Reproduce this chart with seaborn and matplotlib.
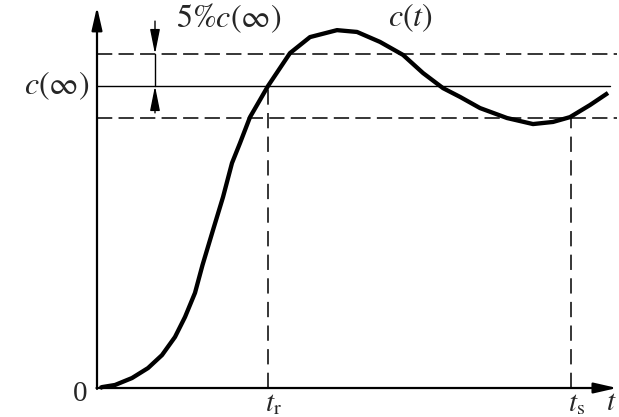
import numpy as np
import pandas as pd
import matplotlib
matplotlib.use("Agg")
import matplotlib.pyplot as plt
import seaborn as sns

# --- data ---
t_vals = [0.0, 0.04, 0.30, 0.64, 0.96, 1.24, 1.50, 1.70, 1.90, 2.05, 2.26, 2.46, 2.64, 2.80,
          3.0, 3.2, 3.36, 3.8, 4.2, 4.74, 5.14, 5.6, 6.06, 6.46, 6.86, 7.2, 7.6, 8.14,
          8.66, 9.06, 9.4, 9.8, 10.16]
c_vals = [0.0, 0.003, 0.010, 0.033, 0.066, 0.109, 0.169, 0.235, 0.315, 0.407, 0.523, 0.632, 0.745, 0.811,
          0.897, 0.954, 1.0, 1.109, 1.162, 1.185, 1.179, 1.146, 1.103, 1.043, 0.993, 0.964, 0.927, 0.894,
          0.874, 0.881, 0.897, 0.937, 0.977]
c_inf = 1.0
band = 0.106
t_r = 3.36
t_s = 9.42
labels = {"zero": "0", "cinf": r"$c(\infty)$", "band": r"$5\%c(\infty)$",
          "curve": r"$c(t)$", "tr": r"$t_{\mathrm{r}}$", "ts": r"$t_{\mathrm{s}}$", "t": r"$t$"}

sns.set_style("white")
plt.rcParams["font.family"] = ["Liberation Serif", "DejaVu Serif"]
plt.rcParams["mathtext.fontset"] = "stix"

fig = plt.figure(figsize=(6.19, 4.17), dpi=100)
ax = fig.add_axes([0, 0, 1, 1])
ax.set_xlim(-2.0, 10.38)
ax.set_ylim(-0.096, 1.2848)
ax.axis("off")

df = pd.DataFrame({"t": t_vals, "c": c_vals})
sns.lineplot(data=df, x="t", y="c", sort=False, color="black", lw=3.1, ax=ax,
             solid_joinstyle="round", solid_capstyle="butt")

# axes with arrows
x_end = 10.34
y_top = 1.262
ax.annotate("", xy=(x_end, 0), xytext=(-0.07, 0),
            arrowprops=dict(arrowstyle="-|>,head_length=1.4,head_width=0.32",
                            color="black", lw=1.6, shrinkA=0, shrinkB=0))
ax.annotate("", xy=(-0.06, y_top), xytext=(-0.06, -0.003),
            arrowprops=dict(arrowstyle="-|>,head_length=1.4,head_width=0.32",
                            color="black", lw=1.6, shrinkA=0, shrinkB=0))

# reference lines
ax.plot([-0.06, 10.2], [c_inf, c_inf], color="black", lw=1.0)
dash = (0, (11 / 1.1, 4.5 / 1.1))
ax.plot([-0.06, 10.34], [c_inf + band, c_inf + band], color="black", lw=1.1, ls=dash)
ax.plot([-0.06, 10.34], [c_inf - band, c_inf - band], color="black", lw=1.1, ls=dash)
ax.plot([t_r, t_r], [0, c_inf], color="black", lw=1.1, ls=(0, (11 / 1.1, 6 / 1.1)))
ax.plot([t_s, t_s], [0, c_inf - band], color="black", lw=1.1, ls=(0, (11 / 1.1, 6 / 1.1)))

# 5% annotation arrows
xa = 1.1
ax.annotate("", xy=(xa, c_inf + band), xytext=(xa, 1.215),
            arrowprops=dict(arrowstyle="-|>,head_length=1.5,head_width=0.3",
                            color="black", lw=1.0, shrinkA=0, shrinkB=0))
ax.annotate("", xy=(xa, c_inf), xytext=(xa, 0.911),
            arrowprops=dict(arrowstyle="-|>,head_length=1.5,head_width=0.3",
                            color="black", lw=1.0, shrinkA=0, shrinkB=0))
ax.plot([xa, xa], [c_inf, c_inf + band], color="black", lw=1.0)

fs_big = 23
fs_small = 21
ax.text(-0.4, -0.02, labels["zero"], fontsize=fs_small, ha="center", va="center")
ax.text(-0.86, c_inf, labels["cinf"], fontsize=fs_big, ha="center", va="center")
ax.text(2.58, 1.225, labels["band"], fontsize=fs_big, ha="center", va="center")
ax.text(6.2, 1.225, labels["curve"], fontsize=fs_big, ha="center", va="center")
ax.text(t_r + 0.1, -0.052, labels["tr"], fontsize=fs_small, ha="center", va="center")
ax.text(t_s + 0.12, -0.052, labels["ts"], fontsize=fs_small, ha="center", va="center")
ax.text(10.22, -0.048, labels["t"], fontsize=fs_small, ha="center", va="center")

fig.savefig("out.png", dpi=100)
